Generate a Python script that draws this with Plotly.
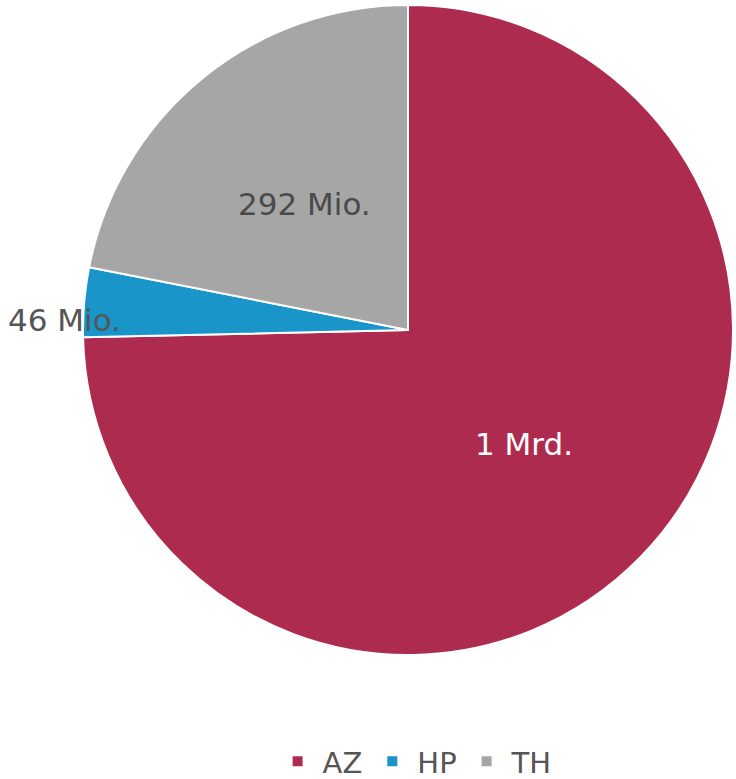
import math
import plotly.graph_objects as go

# Data
categories = ["AZ", "HP", "TH"]
values = [995, 46, 292]          # Mio.
value_labels = ["1 Mrd.", "46 Mio.", "292 Mio."]
colors = ["#AE2B50", "#1995C9", "#A6A6A6"]
text_colors = ["#FFFFFF", "#555555", "#4A4A4A"]
label_outside = [False, True, False]

W, H = 736, 779
dom_x = [83 / W, 733 / W]
dom_y = [1 - 655 / H, 1 - 5 / H]

fig = go.Figure(go.Pie(
    labels=categories,
    values=values,
    textinfo="none",
    sort=False,
    direction="clockwise",
    rotation=0,
    marker=dict(colors=colors, line=dict(color="#FFFFFF", width=2)),
    domain=dict(x=dom_x, y=dom_y),
    hoverinfo="label+value",
))

# Value labels placed on each slice's bisector
total = sum(values)
R = (dom_x[1] - dom_x[0]) * W / 2
cx = (dom_x[0] + dom_x[1]) / 2
cy = (dom_y[0] + dom_y[1]) / 2
cum = 0
for i, v in enumerate(values):
    theta = 2 * math.pi * (cum + v / 2) / total
    cum += v
    r = R * (1.06 if label_outside[i] else 0.5)
    fig.add_annotation(
        x=cx + r * math.sin(theta) / W,
        y=cy + r * math.cos(theta) / H,
        xref="paper", yref="paper",
        text=value_labels[i],
        showarrow=False,
        xanchor="center", yanchor="top" if label_outside[i] else "middle",
        font=dict(family="DejaVu Sans", size=31, color=text_colors[i]),
    )

fig.update_layout(
    width=W, height=H,
    margin=dict(l=0, r=0, t=0, b=0, autoexpand=False),
    paper_bgcolor="#FFFFFF",
    plot_bgcolor="#FFFFFF",
    showlegend=True,
    legend=dict(
        orientation="h",
        x=0.564, xanchor="center",
        y=-8 / H, yanchor="bottom",
        font=dict(family="DejaVu Sans", size=29, color="#555555"),
        itemwidth=40,
    ),
)

fig.write_html("out.html", config={"displayModeBar": False},
               post_script="document.body.style.margin='0';")
